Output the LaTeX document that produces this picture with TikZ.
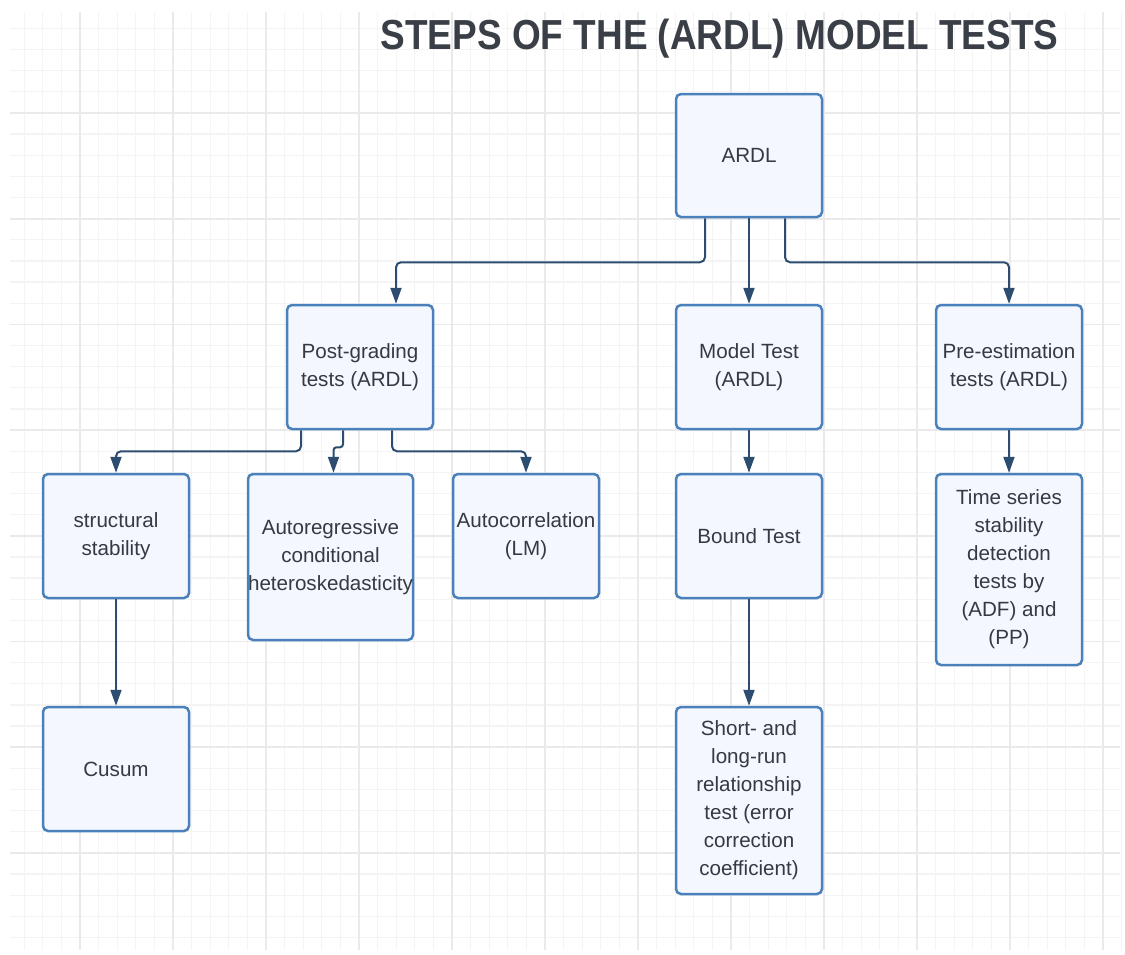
\documentclass[tikz,border=0pt]{standalone}
\usepackage{fontspec}
\setmainfont{Liberation Sans}
\usetikzlibrary{arrows.meta}
\definecolor{gridminor}{HTML}{F4F4F4}
\definecolor{gridmajor}{HTML}{EAEAEA}
\definecolor{boxline}{HTML}{4A80BB}
\definecolor{boxfill}{HTML}{F4F8FE}
\definecolor{conncol}{HTML}{2C4D70}
\definecolor{txtcol}{HTML}{363A40}
\definecolor{titlecol}{HTML}{3A3F47}
\tikzset{
  box/.style={draw=boxline, line width=2.5pt, fill=boxfill, rounded corners=5pt,
    text=txtcol, align=center, inner sep=0pt,
    font=\fontsize{20.6}{28}\selectfont},
  conn/.style={draw=conncol, line width=2pt, rounded corners=5pt,
    -{Triangle[width=11pt,length=16pt]}},
  gminor/.style={draw=gridminor, line width=1.3pt},
  gmajor/.style={draw=gridmajor, line width=1.6pt}
}
\begin{document}
\begin{tikzpicture}[x=1pt,y=-1pt]
\useasboundingbox (0,0) rectangle (1125,954);
\fill[white] (0,0) rectangle (1125,954);
% grid
\foreach \i in {0,...,59} {\draw[gminor] ({24.2+18.6*\i},12) -- ({24.2+18.6*\i},950);}
\foreach \j in {0,...,43} {\draw[gminor] (10,{28.4+21.14*\j}) -- (1120,{28.4+21.14*\j});}
\foreach \i in {0,...,11} {\draw[gmajor] ({80+93*\i},12) -- ({80+93*\i},950);}
\foreach \j in {0,...,7} {\draw[gmajor] (10,{113+105.7*\j}) -- (1120,{113+105.7*\j});}
% title
\node[anchor=base, text=titlecol, inner sep=0pt] (title) at (719.5,49.3)
  {\scalebox{0.88}[1]{\fontsize{42}{42}\selectfont\bfseries STEPS OF THE (ARDL) MODEL TESTS}};
% boxes
\node[box, minimum width=146pt, minimum height=123pt] (ardl) at (749,155.5) {ARDL};
\node[box, minimum width=146pt, minimum height=124pt] (post) at (360,367) {Post-grading\\tests (ARDL)};
\node[box, minimum width=146pt, minimum height=124pt] (model) at (749,367) {Model Test\\(ARDL)};
\node[box, minimum width=146pt, minimum height=124pt] (pre) at (1009,367) {Pre-estimation\\tests (ARDL)};
\node[box, minimum width=146pt, minimum height=124pt] (struct) at (116,536) {structural\\stability};
\node[box, minimum width=165pt, minimum height=166pt] (autoreg) at (330.5,557) {Autoregressive\\conditional\\heteroskedasticity};
\node[box, minimum width=146pt, minimum height=124pt] (autocorr) at (526,536) {Autocorrelation\\(LM)};
\node[box, minimum width=146pt, minimum height=124pt] (bound) at (749,536) {Bound Test};
\node[box, minimum width=146pt, minimum height=191pt] (time) at (1009,569.5) {Time series\\stability\\detection\\tests by\\(ADF) and\\(PP)};
\node[box, minimum width=146pt, minimum height=124pt] (cusum) at (116,769) {Cusum};
\node[box, minimum width=146pt, minimum height=187pt] (short) at (749,800.5) {Short- and\\long-run\\relationship\\test (error\\correction\\coefficient)};
% connectors
\draw[conn] ([xshift=-44pt]ardl.south) -- ++(0,44) -| ([xshift=36pt]post.north);
\draw[conn] (ardl.south) -- (model.north);
\draw[conn] ([xshift=36pt]ardl.south) -- ++(0,44) -| (pre.north);
\draw[conn] ([xshift=-59pt]post.south) -- ++(0,21) -| (struct.north);
\draw[conn, rounded corners=3pt] ([xshift=-17pt]post.south) -- ++(0,17) -| ([xshift=3pt]autoreg.north);
\draw[conn] ([xshift=32pt]post.south) -- ++(0,21) -| (autocorr.north);
\draw[conn] (model.south) -- (bound.north);
\draw[conn] (pre.south) -- (time.north);
\draw[conn] (struct.south) -- (cusum.north);
\draw[conn] (bound.south) -- (short.north);
\end{tikzpicture}
\end{document}
